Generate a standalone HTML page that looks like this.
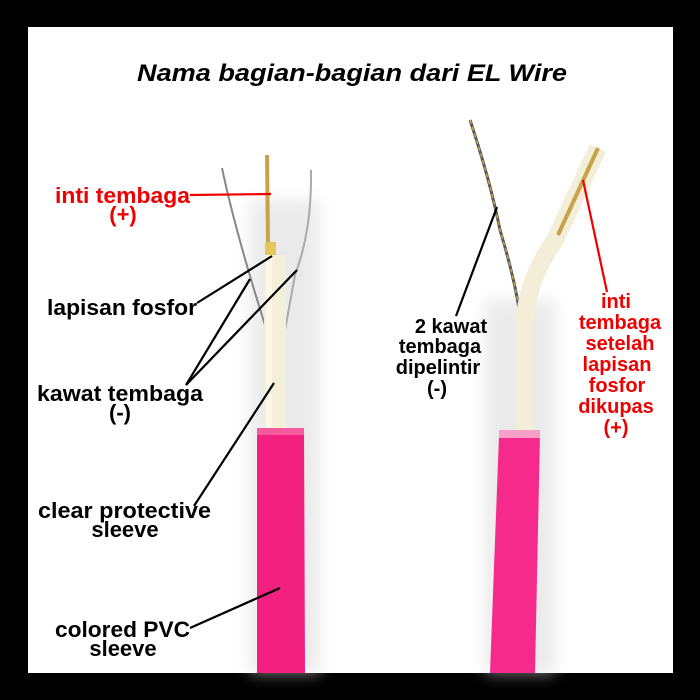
<!DOCTYPE html>
<html><head><meta charset="utf-8"><style>
html,body{margin:0;padding:0;background:#000}
svg{display:block}
text{font-family:"Liberation Sans",Arial,sans-serif;font-weight:bold}
</style></head><body>
<svg width="700" height="700" viewBox="0 0 700 700" xmlns="http://www.w3.org/2000/svg">
<defs>
<filter id="sh" x="-50%" y="-20%" width="200%" height="140%"><feGaussianBlur stdDeviation="8"/></filter>
</defs>
<rect width="700" height="700" fill="#000"/>
<rect x="28" y="27" width="645" height="646" fill="#fff"/>
<rect x="250" y="200" width="70" height="473" fill="#ddd" filter="url(#sh)" opacity="0.6"/>
<rect x="485" y="300" width="70" height="373" fill="#ddd" filter="url(#sh)" opacity="0.6"/>
<text x="137" y="81" font-size="24" font-style="italic" textLength="430" lengthAdjust="spacingAndGlyphs" fill="#000">Nama bagian-bagian dari EL Wire</text>

<path d="M222,168 Q235,230 265,325" stroke="#888" stroke-width="2" fill="none"/>
<path d="M311,170 Q312,230 295,275 L285,330" stroke="#aaa" stroke-width="2" fill="none"/>
<path d="M267,155 L268,245" stroke="#c9a24a" stroke-width="4" fill="none"/>
<rect x="265" y="242" width="11" height="14" fill="#e6c85a"/>
<rect x="264" y="255" width="22" height="175" fill="#f3efd8"/>
<rect x="266" y="255" width="6" height="175" fill="#fbf8ea"/>
<path d="M257,430 L304,428 L305,673 L257,673 Z" fill="#f2207f"/>
<rect x="257" y="428" width="47" height="7" fill="#f65a9c"/>

<path d="M470,120 Q490,180 500,230 Q515,280 520,315" stroke="#555" stroke-width="3" fill="none"/>
<path d="M470,120 Q490,180 500,230 Q515,280 520,315" stroke="#c9a24a" stroke-width="1.5" fill="none" stroke-dasharray="4 3"/>
<path d="M525,432 L525,320 Q527,280 555,240 L598,148" stroke="#f2eed8" stroke-width="18" fill="none"/>
<path d="M558,235 L598,148" stroke="#c9a24a" stroke-width="4" fill="none"/>
<path d="M499,436 L540,433 L535,673 L490,673 Z" fill="#f52a8a"/>
<rect x="499" y="430" width="41" height="8" fill="#f8a0c8"/>

<g stroke="#000" stroke-width="2.2" fill="none">
<line x1="197" y1="303" x2="272" y2="256"/>
<line x1="186" y1="385" x2="250" y2="279"/>
<line x1="186" y1="385" x2="297" y2="270"/>
<line x1="194" y1="506" x2="274" y2="383"/>
<line x1="190" y1="628" x2="280" y2="588"/>
<line x1="456" y1="316" x2="497" y2="207"/>
</g>
<g stroke="#e00" stroke-width="2.2" fill="none">
<line x1="190" y1="195" x2="271" y2="194"/>
<line x1="583" y1="180" x2="607" y2="292"/>
</g>

<g font-size="22">
<text x="55" y="203" fill="#e00" textLength="135" lengthAdjust="spacingAndGlyphs">inti tembaga</text>
<text x="123" y="222" fill="#e00" text-anchor="middle">(+)</text>
<text x="47" y="315" fill="#000" textLength="150" lengthAdjust="spacingAndGlyphs">lapisan fosfor</text>
<text x="37" y="401" fill="#000" textLength="166" lengthAdjust="spacingAndGlyphs">kawat tembaga</text>
<text x="120" y="420" fill="#000" text-anchor="middle">(-)</text>
<text x="38" y="518" fill="#000" textLength="173" lengthAdjust="spacingAndGlyphs">clear protective</text>
<text x="125" y="537" fill="#000" text-anchor="middle">sleeve</text>
<text x="55" y="637" fill="#000" textLength="135" lengthAdjust="spacingAndGlyphs">colored PVC</text>
<text x="123" y="656" fill="#000" text-anchor="middle">sleeve</text>
</g>
<g font-size="20" text-anchor="middle">
<text x="451" y="333" fill="#000">2 kawat</text>
<text x="440" y="353" fill="#000">tembaga</text>
<text x="438" y="374" fill="#000">dipelintir</text>
<text x="437" y="395" fill="#000">(-)</text>
<text x="616" y="308" fill="#e00">inti</text>
<text x="620" y="329" fill="#e00">tembaga</text>
<text x="620" y="350" fill="#e00">setelah</text>
<text x="617" y="371" fill="#e00">lapisan</text>
<text x="617" y="392" fill="#e00">fosfor</text>
<text x="616" y="413" fill="#e00">dikupas</text>
<text x="616" y="434" fill="#e00">(+)</text>
</g>
</svg>
</body></html>
